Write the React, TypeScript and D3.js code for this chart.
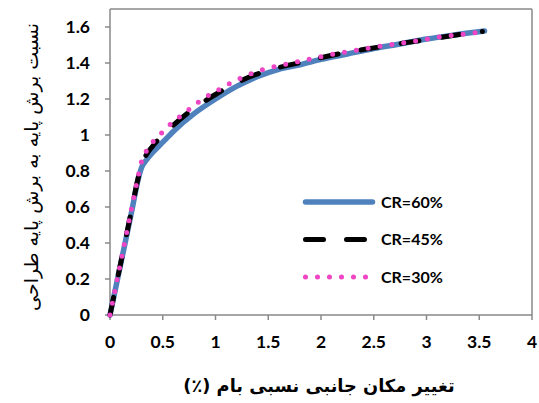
import React from "react";
import * as d3 from "d3";

const xTicks = [0, 0.5, 1, 1.5, 2, 2.5, 3, 3.5, 4];
const yTicks = [0, 0.2, 0.4, 0.6, 0.8, 1, 1.2, 1.4, 1.6];

const cr60X = [0, 0.1, 0.2, 0.27, 0.3, 0.35, 0.4, 0.5, 0.6, 0.8, 1.0, 1.2, 1.4, 1.6, 1.8, 2.0, 2.25, 2.5, 2.75, 3.0, 3.25, 3.55];
const cr60Y = [0, 0.28, 0.56, 0.76, 0.82, 0.865, 0.9, 0.96, 1.02, 1.12, 1.2, 1.27, 1.325, 1.365, 1.39, 1.42, 1.45, 1.48, 1.506, 1.533, 1.555, 1.578];

const cr45X = [0, 0.1, 0.2, 0.27, 0.3, 0.35, 0.4, 0.5, 0.6, 0.8, 1.0, 1.2, 1.4, 1.6, 1.8, 2.0, 2.25, 2.5, 2.75, 3.0, 3.25, 3.53];
const cr45Y = [0, 0.285, 0.57, 0.77, 0.84, 0.895, 0.935, 1.0, 1.055, 1.15, 1.225, 1.29, 1.34, 1.375, 1.402, 1.43, 1.46, 1.484, 1.508, 1.53, 1.553, 1.575];

const cr30X = [0, 0.1, 0.2, 0.27, 0.3, 0.35, 0.42, 0.5, 0.58, 0.67, 0.76, 0.85, 0.95, 1.05, 1.15, 1.25, 1.36, 1.46, 1.58, 1.7, 1.81, 1.92, 2.03, 2.14, 2.26, 2.48, 2.71, 2.93, 3.16, 3.39, 3.52];
const cr30Y = [0, 0.29, 0.58, 0.78, 0.855, 0.916, 0.971, 1.017, 1.064, 1.106, 1.147, 1.188, 1.225, 1.258, 1.291, 1.319, 1.345, 1.365, 1.382, 1.397, 1.411, 1.425, 1.439, 1.452, 1.463, 1.485, 1.506, 1.526, 1.548, 1.563, 1.572];

const seriesNames = ["CR=60%", "CR=45%", "CR=30%"];

const W = 539;
const H = 403;
const left = 110;
const right = 532;
const top = 9;
const bottom = 315;

export default function App() {
  const x = d3.scaleLinear().domain([0, 4]).range([left, right]);
  const y = d3.scaleLinear().domain([0, 1.7]).range([bottom, top]);
  const line = d3
    .line<[number, number]>()
    .x((d) => x(d[0]))
    .y((d) => y(d[1]))
    .curve(d3.curveMonotoneX);
  const zip = (a: number[], b: number[]) => a.map((v, i) => [v, b[i]] as [number, number]);

  const styles = [
    { stroke: "#4F81BD", width: 5.5, dash: undefined as string | undefined, cap: "round" },
    { stroke: "#000000", width: 5, dash: "18 23", cap: "round" },
    { stroke: "#EE45C5", width: 5, dash: "0 12", cap: "round" },
  ];
  const data = [zip(cr60X, cr60Y), zip(cr45X, cr45Y), zip(cr30X, cr30Y)];
  const axisColor = "#898989";
  const tickFont = "Lato, 'Open Sans', sans-serif";

  return (
    <svg width={W} height={H} style={{ position: "absolute", left: 0, top: 0, background: "#fff" }}>
      <rect x={0} y={0} width={W} height={H} fill="#fff" />
      <line x1={left} x2={right} y1={top} y2={top} stroke={axisColor} strokeWidth={1.5} />
      <line x1={right} x2={right} y1={top} y2={bottom} stroke={axisColor} strokeWidth={1.5} />
      <line x1={left} x2={left} y1={top} y2={bottom} stroke={axisColor} strokeWidth={1.5} />
      <line x1={left} x2={right} y1={bottom} y2={bottom} stroke={axisColor} strokeWidth={1.5} />
      {yTicks.map((t) => (
        <g key={"y" + t}>
          <line x1={left - 5} x2={left} y1={y(t)} y2={y(t)} stroke={axisColor} strokeWidth={1.5} />
          <text x={90} y={y(t)} dy="0.36em" textAnchor="end" fontFamily={tickFont} fontWeight="bold" fontSize={17.5} fill="#000">
            {t}
          </text>
        </g>
      ))}
      {xTicks.map((t) => (
        <g key={"x" + t}>
          <line x1={x(t)} x2={x(t)} y1={bottom} y2={bottom + 5} stroke={axisColor} strokeWidth={1.5} />
          <text x={x(t)} y={348} textAnchor="middle" fontFamily={tickFont} fontWeight="bold" fontSize={17.5} fill="#000">
            {t}
          </text>
        </g>
      ))}
      {data.map((d, i) => (
        <path
          key={"s" + i}
          d={line(d) || ""}
          fill="none"
          stroke={styles[i].stroke}
          strokeWidth={styles[i].width}
          strokeDasharray={styles[i].dash}
          strokeLinecap={styles[i].cap as any}
          strokeLinejoin="round"
        />
      ))}
      {seriesNames.map((n, i) => {
        const ly = 202 + i * 37.5;
        return (
          <g key={"l" + i}>
            <line
              x1={305.5}
              x2={372.5}
              y1={ly}
              y2={ly}
              stroke={styles[i].stroke}
              strokeWidth={styles[i].width}
              strokeDasharray={styles[i].dash}
              strokeLinecap={styles[i].cap as any}
            />
            <text x={381} y={ly} dy="0.36em" fontFamily={tickFont} fontWeight="bold" fontSize={16} fill="#000">
              {n}
            </text>
          </g>
        );
      })}
      <text
        x={319}
        y={392}
        textAnchor="middle"
        direction="rtl"
        fontFamily="'DejaVu Sans', sans-serif"
        fontWeight="bold"
        fontSize={17.8}
        fill="#000"
      >
        تغییر مکان جانبی نسبی بام (٪)
      </text>
      <text
        transform={`translate(38, 167) rotate(-90)`}
        textAnchor="middle"
        direction="rtl"
        fontFamily="'DejaVu Sans', sans-serif"
        fontSize={19}
        fill="#000"
      >
        نسبت برش پایه به برش پایه طراحی
      </text>
    </svg>
  );
}
